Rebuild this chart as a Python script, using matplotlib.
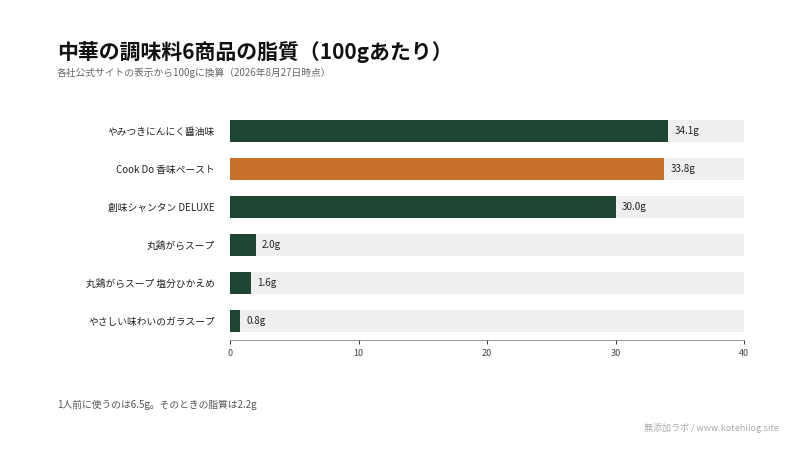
import matplotlib.pyplot as plt

plt.rcParams['font.family'] = ['Noto Sans CJK JP', 'DejaVu Sans']

# データ
products = ['やみつきにんにく醤油味', 'Cook Do 香味ペースト', '創味シャンタン DELUXE',
            '丸鶏がらスープ', '丸鶏がらスープ 塩分ひかえめ', 'やさしい味わいのガラスープ']
fat = [34.1, 33.8, 30.0, 2.0, 1.6, 0.8]
highlight = 'Cook Do 香味ペースト'
xmax = 40

green = '#1c4532'
orange = '#c8712b'

fig = plt.figure(figsize=(8, 4.5), dpi=100)
ax = fig.add_axes([0.2875, 1 - 340 / 450, 0.6425, 231.8 / 450])

y = list(range(len(products)))[::-1]
ax.barh(y, [xmax] * len(products), height=0.58, color='#efefef', zorder=1)
colors = [orange if p == highlight else green for p in products]
ax.barh(y, fat, height=0.58, color=colors, zorder=2)
for yi, v in zip(y, fat):
    ax.text(v + 0.5, yi, f'{v:.1f}g', va='center', ha='left', fontsize=7, color='#222222', zorder=3)

ax.set_yticks(y)
ax.set_yticklabels(products, fontsize=7, color='#222222')
ax.set_xlim(0, xmax)
ax.set_ylim(-0.5, len(products) - 0.4)
ax.set_xticks([0, 10, 20, 30, 40])
ax.tick_params(axis='x', labelsize=6.5, colors='#444444', length=3)
ax.tick_params(axis='y', length=0, pad=11)
for s in ['top', 'right', 'left']:
    ax.spines[s].set_visible(False)
ax.spines['bottom'].set_color('#888888')
ax.spines['bottom'].set_linewidth(0.6)

fig.text(57 / 800, 1 - 52 / 450, '中華の調味料6商品の脂質（100gあたり）', fontsize=15, fontweight='bold',
         va='center', ha='left', color='#111111')
fig.text(57 / 800, 1 - 73 / 450, '各社公式サイトの表示から100gに換算（2026年8月27日時点）', fontsize=7,
         va='center', ha='left', color='#666666')
fig.text(57 / 800, 1 - 405 / 450, '1人前に使うのは6.5g。そのときの脂質は2.2g', fontsize=7,
         va='center', ha='left', color='#555555')
fig.text(779 / 800, 1 - 428 / 450, '無添加ラボ / www.kotehilog.site', fontsize=6.5,
         va='center', ha='right', color='#aaaaaa')

fig.savefig('out.png', dpi=100, facecolor='white')
